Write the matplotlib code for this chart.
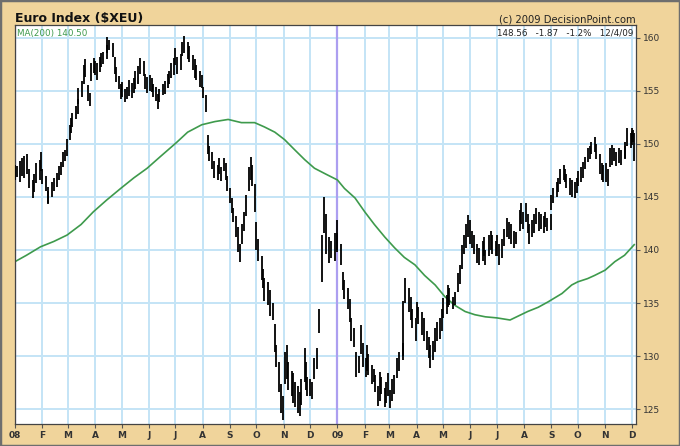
import matplotlib
matplotlib.use('Agg')
import matplotlib.pyplot as plt
import matplotlib.dates as mdates
from matplotlib.patches import Rectangle
import numpy as np
import pandas as pd

# daily-ish bars, (low, high)
jan08 = [(146.6, 148.0), (146.9, 147.9), (146.4, 148.4), (147.0, 148.7), (146.8, 148.9), (147.2, 149.0),
         (145.8, 147.6), (144.9, 146.6), (145.5, 147.2), (146.3, 148.2), (146.6, 148.5), (147.4, 149.2)]
feb08 = [(146.2, 147.6), (145.6, 147.0), (144.4, 145.9), (144.3, 145.6), (145.0, 146.4), (145.6, 146.8),
         (145.9, 147.3), (146.6, 147.9), (147.1, 148.3), (147.8, 149.2), (148.4, 149.4), (148.9, 150.5)]
mar08 = [(150.4, 151.8), (151.0, 152.4), (151.6, 152.9), (152.3, 153.6), (152.8, 154.2), (153.8, 155.3),
         (154.4, 155.9), (155.6, 157.4), (156.3, 158.0), (154.0, 155.5), (153.6, 154.8), (155.9, 157.6),
         (156.7, 158.1)]
apr08 = [(156.5, 157.8), (156.0, 157.6), (156.8, 158.2), (157.2, 158.6), (157.5, 158.7), (158.0, 159.3),
         (158.6, 160.1), (158.8, 159.8), (158.2, 159.5), (156.6, 158.2), (155.8, 157.2), (155.2, 156.4),
         (154.2, 155.6)]
may08 = [(154.4, 155.8), (153.9, 155.2), (154.2, 155.4), (154.5, 156.0), (154.3, 155.7), (154.8, 156.2),
         (155.2, 156.9), (155.6, 157.3), (156.6, 158.1), (156.4, 157.8), (155.2, 156.6), (154.8, 156.3)]
jun08 = [(155.0, 156.5), (154.9, 156.2), (154.4, 155.6), (154.0, 155.4), (153.3, 154.7), (153.9, 155.2),
         (154.6, 155.6), (154.7, 155.9), (155.3, 156.6), (155.6, 156.9), (156.2, 157.6), (156.5, 158.1)]
jul08 = [(157.4, 159.0), (156.6, 158.2), (157.0, 158.5), (158.3, 159.6), (158.6, 160.2), (158.0, 159.6),
         (157.7, 159.2), (157.0, 158.4), (156.2, 158.0), (156.0, 157.4), (155.4, 156.9), (155.3, 156.5)]
aug08 = [(154.3, 155.4), (153.0, 154.6), (149.0, 150.8), (148.4, 149.8), (147.6, 149.2), (146.8, 148.4),
         (146.6, 148.0), (147.2, 148.7), (146.5, 147.8), (147.4, 148.7), (146.6, 148.2), (145.6, 147.0)]
sep08 = [(144.4, 145.8), (143.5, 144.9), (142.6, 144.0), (141.2, 143.2), (139.8, 142.2), (138.9, 140.6),
         (140.6, 142.4), (141.8, 143.6), (143.2, 145.2), (145.6, 147.8), (146.6, 148.8), (146.0, 148.0),
         (143.6, 146.2)]
oct08 = [(140.0, 142.6), (139.0, 141.0), (137.2, 139.4), (136.4, 138.2), (135.2, 137.4), (134.8, 137.0),
         (133.8, 136.2), (133.4, 135.0), (130.4, 133.0), (129.0, 131.0), (126.6, 129.4), (124.6, 127.4),
         (124.0, 126.2)]
nov08 = [(127.4, 130.4), (127.8, 131.0), (126.8, 129.4), (126.2, 128.6), (125.6, 128.4), (125.2, 127.6),
         (124.6, 127.2), (124.4, 126.6), (125.4, 127.8), (127.6, 130.8), (126.8, 129.4), (126.2, 128.0)]
dec08 = [(126.2, 127.8), (126.0, 127.6), (127.8, 129.8), (128.8, 130.8), (132.2, 134.4), (137.0, 141.4),
         (141.6, 145.0), (139.6, 143.4), (138.8, 141.2), (139.2, 140.8), (139.0, 141.6), (139.8, 141.6)]
jan09 = [(140.0, 142.8), (138.6, 140.6), (136.2, 137.9), (135.4, 137.2), (134.4, 136.4), (133.2, 135.4),
         (131.4, 133.6), (130.9, 132.6), (128.0, 130.4), (128.4, 130.0), (130.2, 132.9), (129.0, 131.2)]
feb09 = [(128.0, 129.8), (128.6, 131.0), (128.2, 130.2), (127.4, 129.2), (127.6, 128.8), (126.6, 128.2),
         (125.3, 127.2), (125.8, 128.5), (126.4, 128.0), (125.2, 127.0), (125.6, 127.6), (126.2, 128.4)]
mar09 = [(125.1, 126.8), (125.8, 127.8), (126.4, 128.2), (127.9, 129.8), (128.6, 130.4), (129.6, 131.2),
         (130.0, 135.2), (135.0, 137.4), (134.2, 136.4), (133.4, 135.6), (132.6, 134.4), (131.4, 133.6)]
apr09 = [(133.6, 135.1), (133.0, 134.6), (132.0, 134.2), (131.4, 133.6), (130.6, 132.4), (129.8, 131.8),
         (128.9, 131.0), (129.6, 131.4), (130.4, 132.6), (131.4, 133.2), (131.6, 133.6), (132.4, 134.4)]
may09 = [(133.6, 135.5), (134.0, 135.8), (134.6, 136.7), (134.8, 136.4), (134.4, 135.6), (134.8, 136.0),
         (136.0, 137.8), (136.8, 138.6), (138.2, 140.5), (139.6, 141.4), (140.2, 142.4), (141.2, 143.3)]
jun09 = [(140.6, 142.8), (140.2, 141.8), (139.6, 141.4), (138.8, 140.6), (138.6, 140.2), (139.0, 140.8),
         (139.4, 141.2), (138.6, 140.0), (139.4, 141.4), (140.0, 141.8), (139.6, 141.4), (139.4, 140.8)]
jul09 = [(139.4, 141.4), (138.6, 140.6), (139.2, 141.0), (140.4, 142.0), (141.2, 143.0), (141.0, 142.6),
         (140.6, 142.4), (140.2, 141.8), (140.6, 141.7), (141.8, 143.8), (142.4, 144.4), (142.0, 143.6)]
aug09 = [(142.6, 144.4), (141.6, 143.4), (140.6, 142.4), (141.2, 142.8), (141.6, 143.4), (142.4, 144.0),
         (141.8, 143.6), (142.0, 143.4), (141.6, 143.2), (142.2, 143.6), (141.8, 143.0), (141.9, 143.4)]
sep09 = [(143.8, 145.2), (144.4, 145.8), (145.0, 146.4), (145.5, 146.8), (146.2, 147.6), (146.6, 148.0),
         (146.4, 147.6), (145.8, 147.2), (145.2, 146.8), (145.0, 146.6), (144.9, 146.4), (145.4, 146.8)]
oct09 = [(146.0, 147.4), (146.4, 147.8), (146.8, 148.3), (147.6, 148.8), (148.3, 149.6), (148.6, 149.8),
         (149.0, 150.2), (149.2, 150.6), (148.6, 150.0), (147.2, 149.0), (146.6, 148.2), (146.4, 148.0)]
nov09 = [(146.4, 148.2), (146.0, 147.6), (147.8, 149.6), (148.0, 149.9), (148.4, 149.6), (147.9, 149.2),
         (148.2, 149.6), (148.0, 149.4), (148.7, 150.2), (148.6, 149.8), (149.8, 151.5), (149.6, 151.0)]
dec09 = [(149.9, 151.2), (150.4, 151.5), (150.2, 151.3), (148.4, 151.0)]

month_bars = [jan08, feb08, mar08, apr08, may08, jun08, jul08, aug08, sep08, oct08, nov08, dec08,
              jan09, feb09, mar09, apr09, may09, jun09, jul09, aug09, sep09, oct09, nov09, dec09]

# 200-day moving average, read at about two points a month
ma_dates = ['2008-01-01', '2008-01-14', '2008-01-30', '2008-02-14', '2008-02-29', '2008-03-16',
            '2008-03-30', '2008-04-14', '2008-04-30', '2008-05-15', '2008-05-30', '2008-06-14',
            '2008-07-02', '2008-07-15', '2008-07-31', '2008-08-15', '2008-08-30', '2008-09-14',
            '2008-09-29', '2008-10-10', '2008-10-22', '2008-11-02', '2008-11-14', '2008-11-25',
            '2008-12-06', '2008-12-20', '2009-01-01', '2009-01-09', '2009-01-21', '2009-02-01',
            '2009-02-12', '2009-02-24', '2009-03-07', '2009-03-18', '2009-03-30', '2009-04-10',
            '2009-04-22', '2009-05-03', '2009-05-14', '2009-05-26', '2009-06-06', '2009-06-18',
            '2009-07-01', '2009-07-16', '2009-08-05', '2009-08-17', '2009-08-28', '2009-09-13',
            '2009-09-24', '2009-10-01', '2009-10-12', '2009-10-20', '2009-11-01', '2009-11-12',
            '2009-11-23', '2009-12-04']
ma_values = [138.9, 139.5, 140.3, 140.8, 141.4, 142.4,
             143.6, 144.7, 145.8, 146.8, 147.7, 148.8,
             150.1, 151.1, 151.8, 152.1, 152.3, 152.0,
             152.0, 151.6, 151.1, 150.4, 149.4, 148.5,
             147.7, 147.1, 146.6, 145.8, 144.9, 143.6,
             142.4, 141.2, 140.2, 139.3, 138.6, 137.6,
             136.7, 135.6, 134.8, 134.2, 133.9, 133.7,
             133.6, 133.4, 134.2, 134.6, 135.1, 135.9,
             136.7, 137.0, 137.3, 137.6, 138.1, 138.9,
             139.5, 140.5]

month_labels = ['08', 'F', 'M', 'A', 'M', 'J', 'J', 'A', 'S', 'O', 'N', 'D',
                '09', 'F', 'M', 'A', 'M', 'J', 'J', 'A', 'S', 'O', 'N', 'D']
y_ticks = [125, 130, 135, 140, 145, 150, 155, 160]

last_date = '2009-12-04'
tan = '#F0D49B'
grid_blue = '#C4E4F6'
year_purple = '#AC9EF0'
ma_green = '#3E9A4C'

fig = plt.figure(figsize=(6.8, 4.46), dpi=100, facecolor=tan)
ax = fig.add_axes([15 / 680, 22 / 446, 621 / 680, 399 / 446])
ax.set_facecolor('white')

month_starts = pd.date_range('2008-01-01', '2009-12-01', freq='MS')

# bars spread over the business days of each month
xs, lows, highs = [], [], []
for start, bars in zip(month_starts, month_bars):
    end = min(start + pd.offsets.MonthEnd(0), pd.Timestamp(last_date))
    bdays = pd.bdate_range(start, end)
    idx = np.linspace(0, len(bdays) - 1, len(bars)).round().astype(int)
    xs.extend(mdates.date2num(bdays[idx].to_pydatetime()))
    lows.extend([b[0] for b in bars])
    highs.extend([b[1] for b in bars])

ax.vlines(xs, lows, highs, color='black', lw=1.3, zorder=3)

ma_x = mdates.date2num(pd.to_datetime(ma_dates).to_pydatetime())
ax.plot(ma_x, ma_values, color=ma_green, lw=1.2, zorder=2)

# grid
ax.set_axisbelow(True)
ax.set_xticks(mdates.date2num(month_starts.to_pydatetime()))
ax.set_xticklabels(month_labels)
ax.set_yticks(y_ticks)
ax.grid(True, color=grid_blue, lw=1.4)
for yr in ['2008-01-01', '2009-01-01']:
    ax.axvline(mdates.date2num(pd.Timestamp(yr)), color=year_purple, lw=1.6, zorder=1.5)

x0 = mdates.date2num(pd.Timestamp('2008-01-01'))
ax.set_xlim(x0, x0 + 705)
ax.set_ylim(123.6, 161.2)

ax.yaxis.tick_right()
ax.tick_params(axis='y', direction='out', length=3, width=0.8, labelsize=6.5,
               labelcolor='#333333', color='#555555', pad=2)
ax.tick_params(axis='x', direction='out', length=3, width=0.8, labelsize=6.5,
               labelcolor='#333333', color='#555555', pad=2)
for lbl in ax.get_xticklabels():
    lbl.set_fontweight('bold')
for sp in ax.spines.values():
    sp.set_color('#444444')
    sp.set_linewidth(0.9)

# texts
fig.text(15 / 680, 1 - 22 / 446, r'Euro Index (\$XEU)', fontsize=9, fontweight='bold',
         color='#111111', ha='left', va='baseline')
fig.text(636 / 680, 1 - 22 / 446, '(c) 2009 DecisionPoint.com', fontsize=7.2,
         color='#222222', ha='right', va='baseline')
ax.text(0.004, 0.99, 'MA(200) 140.50', transform=ax.transAxes, fontsize=6.3,
        color=ma_green, ha='left', va='top')
ax.text(0.996, 0.99, '148.56   -1.87   -1.2%   12/4/09', transform=ax.transAxes,
        fontsize=6.3, color='#222222', ha='right', va='top')

fig.patches.append(Rectangle((0, 0), 1, 1, transform=fig.transFigure, fill=False,
                             edgecolor='#6E6E6E', lw=2.5))

fig.savefig('out.png', dpi=100, facecolor=fig.get_facecolor())
